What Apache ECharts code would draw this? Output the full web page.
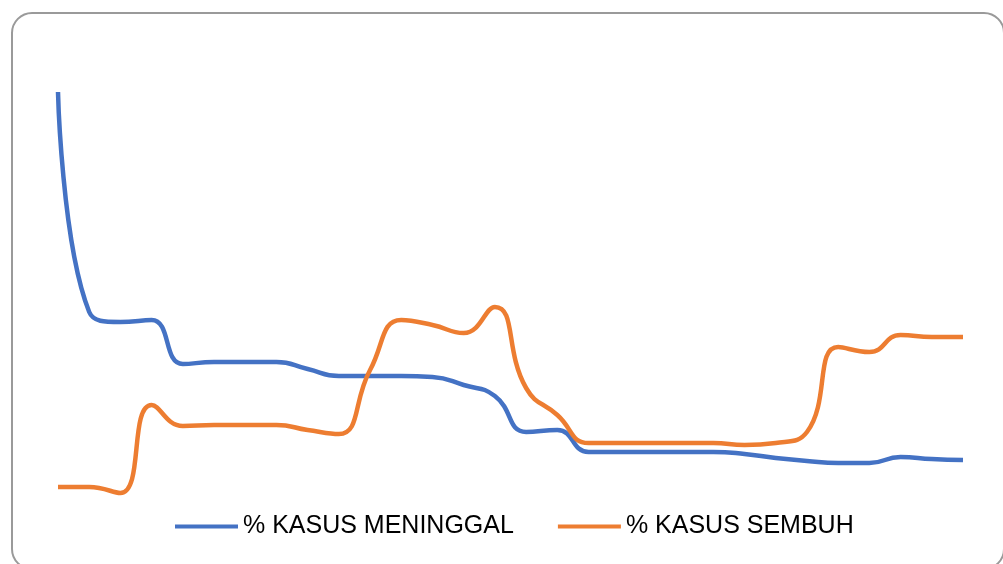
<!DOCTYPE html>
<html>
<head>
<meta charset="utf-8">
<script src="https://cdn.jsdelivr.net/npm/echarts@6/dist/echarts.min.js"></script>
<style>
  html, body { margin: 0; padding: 0; background: #fff; }
  #myChart { width: 1003px; height: 564px; }
</style>
</head>
<body>
<div id="myChart"></div>
<script>
// 30 observations, no axis labels shown in the original
const categories = Array.from({ length: 30 }, (_, i) => String(i + 1))
const seriesNames = ['% KASUS MENINGGAL', '% KASUS SEMBUH']
const meninggal = [40.8, 18.8, 17.8, 18.0, 13.6, 13.8, 13.8, 13.8, 13.1, 12.4,
  12.4, 12.4, 12.3, 11.5, 10.4, 6.8, 7.0, 4.8, 4.8, 4.8,
  4.8, 4.8, 4.6, 4.2, 3.9, 3.7, 3.7, 4.3, 4.1, 4.0]
const sembuh = [1.3, 1.3, 0.7, 9.5, 7.4, 7.5, 7.5, 7.5, 7.0, 6.6,
  13.0, 18.0, 17.5, 16.7, 19.3, 11.2, 8.5, 5.7, 5.7, 5.7,
  5.7, 5.7, 5.5, 5.7, 6.8, 15.3, 14.8, 16.5, 16.3, 16.3]

const myChart = echarts.init(document.getElementById('myChart'))

const option = {
  animation: false,
  graphic: [{
    type: 'rect',
    shape: { x: 12, y: 13, width: 992, height: 556, r: 20 },
    style: { fill: 'none', stroke: '#9a9a9a', lineWidth: 2 },
    silent: true
  }],
  legend: {
    left: 170,
    top: 509,
    icon: 'rect',
    itemWidth: 63,
    itemHeight: 4,
    itemGap: 44,
    textStyle: { fontFamily: 'Liberation Sans', fontSize: 25, color: '#000' },
    data: seriesNames
  },
  grid: { left: 58, right: 40, top: 50, bottom: 64 },
  xAxis: {
    type: 'category',
    boundaryGap: false,
    data: categories,
    show: false
  },
  yAxis: {
    type: 'value',
    min: 0,
    max: 45,
    show: false
  },
  series: [
    {
      name: seriesNames[0],
      type: 'line',
      smooth: 0.5,
      symbol: 'none',
      data: meninggal,
      itemStyle: { color: '#4472C4' },
      lineStyle: { color: '#4472C4', width: 4.5 }
    },
    {
      name: seriesNames[1],
      type: 'line',
      smooth: 0.5,
      symbol: 'none',
      data: sembuh,
      itemStyle: { color: '#ED7D31' },
      lineStyle: { color: '#ED7D31', width: 4.5 }
    }
  ]
}

myChart.setOption(option)
</script>
</body>
</html>
